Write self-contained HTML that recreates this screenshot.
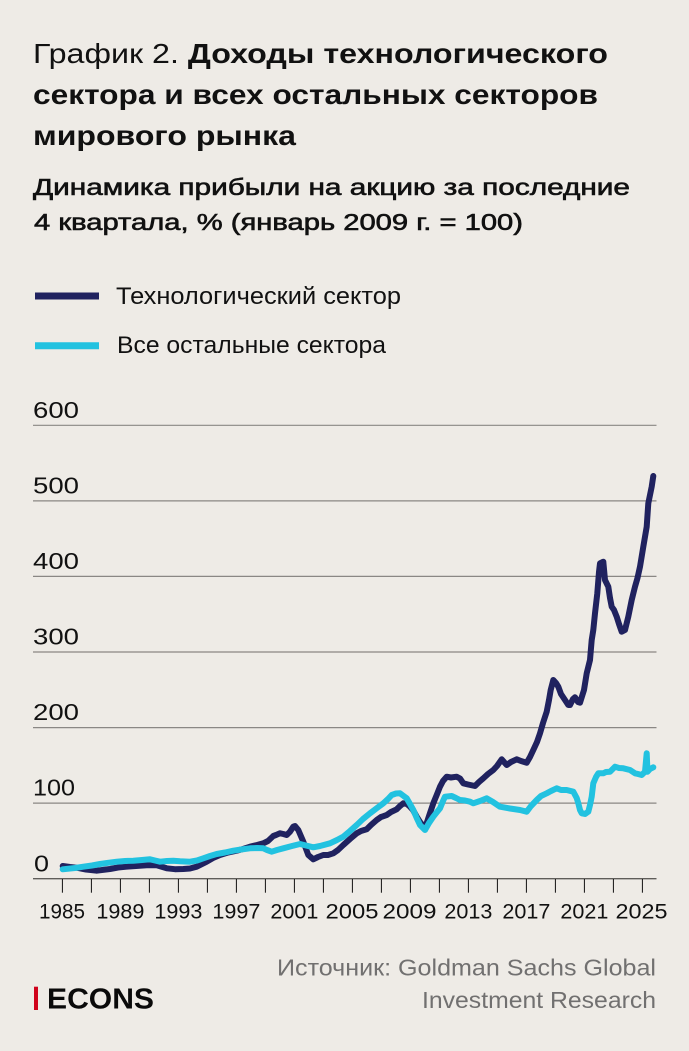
<!DOCTYPE html>
<html>
<head>
<meta charset="utf-8">
<style>
  html,body{margin:0;padding:0;background:#EEEBE6;}
  svg{display:block;}
  text{font-family:"Liberation Sans","Noto Sans CJK SC",sans-serif;}
</style>
</head>
<body>
<svg width="689" height="1051" viewBox="0 0 689 1051" xmlns="http://www.w3.org/2000/svg">
  <rect x="0" y="0" width="689" height="1051" fill="#EEEBE6"/>

  <!-- Title -->
  <text x="33" y="63" font-size="28" fill="#111" textLength="575" lengthAdjust="spacingAndGlyphs"><tspan font-weight="400">График 2. </tspan><tspan font-weight="700">Доходы технологического</tspan></text>
  <text x="33" y="104" font-size="28" font-weight="700" fill="#111" textLength="565" lengthAdjust="spacingAndGlyphs">сектора и всех остальных секторов</text>
  <text x="33" y="145" font-size="28" font-weight="700" fill="#111" textLength="263" lengthAdjust="spacingAndGlyphs">мирового рынка</text>

  <!-- Subtitle -->
  <text x="33" y="195" font-size="23" fill="#111" stroke="#111" stroke-width="0.6" textLength="597" lengthAdjust="spacingAndGlyphs">Динамика прибыли на акцию за последние</text>
  <text x="34" y="230" font-size="23" fill="#111" stroke="#111" stroke-width="0.6" textLength="489" lengthAdjust="spacingAndGlyphs">4 квартала, % (январь 2009 г. = 100)</text>

  <!-- Legend -->
  <line x1="35" y1="296" x2="99" y2="296" stroke="#20225F" stroke-width="7"/>
  <text x="116" y="304" font-size="24" fill="#111" textLength="285" lengthAdjust="spacingAndGlyphs">Технологический сектор</text>
  <line x1="35" y1="345.7" x2="99" y2="345.7" stroke="#22C2E0" stroke-width="7"/>
  <text x="117" y="353" font-size="24" fill="#111" textLength="269" lengthAdjust="spacingAndGlyphs">Все остальные сектора</text>

  <!-- Gridlines -->
  <g stroke="#8a8784" stroke-width="1.2">
    <line x1="33" y1="425.3" x2="656.5" y2="425.3"/>
    <line x1="33" y1="500.9" x2="656.5" y2="500.9"/>
    <line x1="33" y1="576.4" x2="656.5" y2="576.4"/>
    <line x1="33" y1="652.0" x2="656.5" y2="652.0"/>
    <line x1="33" y1="727.6" x2="656.5" y2="727.6"/>
    <line x1="33" y1="803.1" x2="656.5" y2="803.1"/>
  </g>
  <line x1="33" y1="878.7" x2="656.5" y2="878.7" stroke="#5f5d5a" stroke-width="1.3"/>

  <!-- Y labels -->
  <g font-size="23" fill="#111">
    <text x="33" y="417.8" textLength="46" lengthAdjust="spacingAndGlyphs">600</text>
    <text x="33" y="493.4" textLength="46" lengthAdjust="spacingAndGlyphs">500</text>
    <text x="33" y="568.9" textLength="46" lengthAdjust="spacingAndGlyphs">400</text>
    <text x="33" y="644.5" textLength="46" lengthAdjust="spacingAndGlyphs">300</text>
    <text x="33" y="720.1" textLength="46" lengthAdjust="spacingAndGlyphs">200</text>
    <text x="33" y="795.6" textLength="42" lengthAdjust="spacingAndGlyphs">100</text>
    <text x="34" y="871.5" textLength="15" lengthAdjust="spacingAndGlyphs">0</text>
  </g>

  <!-- X ticks -->
  <g stroke="#111" stroke-width="1">
    <line x1="62.4" y1="879" x2="62.4" y2="892.7"/>
    <line x1="91.4" y1="879" x2="91.4" y2="892.7"/>
    <line x1="120.4" y1="879" x2="120.4" y2="892.7"/>
    <line x1="149.4" y1="879" x2="149.4" y2="892.7"/>
    <line x1="178.4" y1="879" x2="178.4" y2="892.7"/>
    <line x1="207.4" y1="879" x2="207.4" y2="892.7"/>
    <line x1="236.4" y1="879" x2="236.4" y2="892.7"/>
    <line x1="265.4" y1="879" x2="265.4" y2="892.7"/>
    <line x1="294.4" y1="879" x2="294.4" y2="892.7"/>
    <line x1="323.4" y1="879" x2="323.4" y2="892.7"/>
    <line x1="352.4" y1="879" x2="352.4" y2="892.7"/>
    <line x1="381.4" y1="879" x2="381.4" y2="892.7"/>
    <line x1="410.4" y1="879" x2="410.4" y2="892.7"/>
    <line x1="439.4" y1="879" x2="439.4" y2="892.7"/>
    <line x1="468.4" y1="879" x2="468.4" y2="892.7"/>
    <line x1="497.4" y1="879" x2="497.4" y2="892.7"/>
    <line x1="526.4" y1="879" x2="526.4" y2="892.7"/>
    <line x1="555.4" y1="879" x2="555.4" y2="892.7"/>
    <line x1="584.4" y1="879" x2="584.4" y2="892.7"/>
    <line x1="613.4" y1="879" x2="613.4" y2="892.7"/>
    <line x1="642.4" y1="879" x2="642.4" y2="892.7"/>
  </g>

  <!-- X labels -->
  <g font-size="21" fill="#111" text-anchor="middle">
    <text x="62" y="918.3" textLength="46" lengthAdjust="spacingAndGlyphs">1985</text>
    <text x="120.4" y="918.3" textLength="48" lengthAdjust="spacingAndGlyphs">1989</text>
    <text x="178.4" y="918.3" textLength="48" lengthAdjust="spacingAndGlyphs">1993</text>
    <text x="236.4" y="918.3" textLength="48" lengthAdjust="spacingAndGlyphs">1997</text>
    <text x="294.4" y="918.3" textLength="48" lengthAdjust="spacingAndGlyphs">2001</text>
    <text x="352" y="918.3" textLength="53" lengthAdjust="spacingAndGlyphs">2005</text>
    <text x="409.5" y="918.3" textLength="54" lengthAdjust="spacingAndGlyphs">2009</text>
    <text x="468.4" y="918.3" textLength="48" lengthAdjust="spacingAndGlyphs">2013</text>
    <text x="526.4" y="918.3" textLength="48" lengthAdjust="spacingAndGlyphs">2017</text>
    <text x="584.4" y="918.3" textLength="48" lengthAdjust="spacingAndGlyphs">2021</text>
    <text x="641.5" y="918.3" textLength="52" lengthAdjust="spacingAndGlyphs">2025</text>
  </g>

  <!-- Tech sector (navy) -->
  <polyline fill="none" stroke="#20225F" stroke-width="6" stroke-linejoin="round" stroke-linecap="round"
    points="62.7,866 70,867 76.7,867.7 86,869.5 96.7,870.7 110,869 118,867.5 126.7,866.7 136,866 146.7,865.3 156.7,865.3 166.7,868.3 175,869.2 183.3,869 190,868.5 196.7,866.7 206.7,861.7 213,858 220,855 228,852.5 236.7,850.7 243,849 250,846.7 257,845 263.3,843.3 268,841 273.3,836 276,835 280,833.3 283.3,834 286.7,835 290,831.7 293.3,826.7 295,826 298.3,830 303.3,841.7 308.3,855 313.3,859.3 318,857 323.3,855 328,855 333.3,853.3 338,850 343.3,845 350,839 356.7,833.3 361,831 366.7,829.3 371,825 376.7,820 381,817 386.7,815 391,812 396.7,809.3 400,806 403.3,803.3 407,804 410,806.7 413,810 416.7,816.7 420,822 425,828.3 429,816 433.3,803.3 436.7,795 440,786.7 443,781 446.7,776.7 451,777.5 456.7,776.7 460,778.5 463.3,783.3 468,784.5 475,786 479,782 483.3,778.3 488,774 493.3,770 497,766 501.7,759.3 504,762 506.7,765 511,762 516.7,759.3 521,761 526.7,762.7 530,757 533.3,750 537,742 540,733.3 543,723 546.7,711.7 549,700 550.7,690 553.3,680 556,683 558.3,686.7 561,694 565,700 568.3,705 570,705 573,699 575,697.3 578,702 580,702.7 584,690 586.7,673.3 590,660 591.7,640 593.3,630 595,613.3 597.3,593.3 599,572 600,563.3 603.3,561.7 605,580 608.3,586.7 610,598 611.7,606.7 614,610 616.7,616.7 619,624 621.7,631.7 625,630 628.3,616.7 631.7,600 635,586.7 637.5,578 640,566.7 643.3,546.7 646.7,526.7 648.3,503.3 651.7,486.7 653.3,476"/>

  <!-- All other sectors (cyan) -->
  <polyline fill="none" stroke="#22C2E0" stroke-width="6" stroke-linejoin="round" stroke-linecap="round"
    points="62.7,869.3 75,868 83.3,866.7 92,865.5 100,864 108,862.8 116.7,861.7 125,861 133.3,860.7 142,860 150,859.3 155,860.5 160,861.7 167,861 173.3,860.7 180,861.2 190,861.7 197,860.5 203.3,858.3 210,856 216.7,854 225,852.5 233.3,850.7 241,849.5 250,848.3 257,848 263.3,848.3 267,850 271.7,851.7 277,850 283.3,848.3 292,846 300,844 306,845.5 313.3,847.3 320,846 330,843.3 337,840 343.3,836.7 350,831 356.7,825 363,819 370,813.3 377,808 383.3,803.3 388,799 391.7,795 396,793.5 400,793.3 403,795.5 406.7,798.3 410,804 413.3,810 416.7,818 420,825 425,830 429,823 433.3,816.7 437,812 440,808.3 443,801 445,796.7 451.7,796 456,798 460,800 465,800.5 470,801.7 473.3,803.3 480,801 486.7,798.3 493,802 500,806.7 510,808.5 520,810 526.7,811.7 531,806 536.7,800 541,796 546.7,793.3 551,791 556.7,788.3 561,790 566.7,790 573.3,791.7 576.7,798 578.3,803.3 580,810 581.7,813.3 585,814 588.3,811.7 590,805 591.7,796.7 593.3,783.3 596,777 598.3,773.3 603.3,773.3 606,772 610,771.7 615,766.7 619,768 623.3,768.3 630,770 635,773.3 638,774 641.7,775 645,771.7 646.7,753.3 647.5,771.7 650,769 653.3,767.3"/>

  <!-- Footer -->
  <rect x="34" y="986.7" width="4" height="23.3" fill="#D0021B"/>
  <text x="47" y="1008.7" font-size="29" font-weight="700" fill="#0a0a0a" textLength="107" lengthAdjust="spacingAndGlyphs">ECONS</text>
  <text x="277" y="975.7" font-size="23" fill="#717070" textLength="379" lengthAdjust="spacingAndGlyphs">Источник: Goldman Sachs Global</text>
  <text x="422" y="1008" font-size="23" fill="#717070" textLength="234" lengthAdjust="spacingAndGlyphs">Investment Research</text>
</svg>
</body>
</html>
